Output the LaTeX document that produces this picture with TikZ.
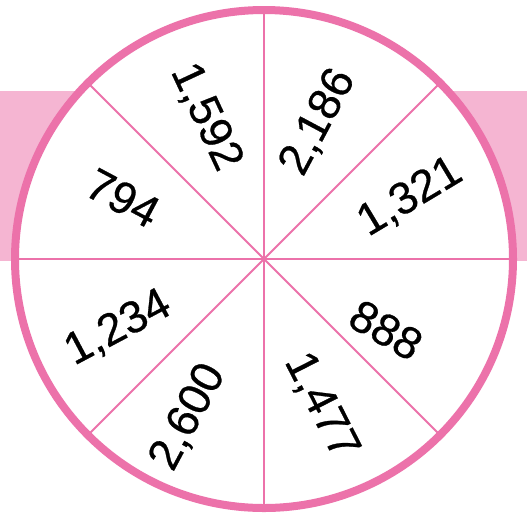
\documentclass[tikz,border=0pt]{standalone}
\usepackage{fontspec}
\setmainfont{Liberation Sans}
\newfontfamily\numfont[FakeBold=0.6]{Liberation Sans}
\usetikzlibrary{calc}
\definecolor{rim}{HTML}{EC72AA}
\definecolor{band}{HTML}{F5B5D2}
\begin{document}
\begin{tikzpicture}[x=1pt,y=-1pt,
  num/.style={font=\numfont\fontsize{45}{50}\selectfont, text=black, inner sep=0pt},
  spoke/.style={draw=rim, line width=1.8pt}]
\useasboundingbox (0,0) rectangle (527,515);
\fill[band] (0,91) rectangle (527,260.5);
\coordinate (c) at (264,259);
\fill[white] (c) circle (249);
\foreach \a in {0,45,...,315}{
  \coordinate (r\a) at ($(c)+(\a:249pt)$);
}
\foreach \a in {0,45,...,315}{
  \draw[spoke] (c) -- (r\a);
}
\draw[rim, line width=8pt] (c) circle (249);
\node[num, rotate=-65] (n1592) at (206,117) {1,592};
\node[num, rotate=62]  (n2186) at (318,122) {2,186};
\node[num, rotate=31]  (n1321) at (410,197) {1,321};
\node[num, rotate=-28] (n794)  at (123,198) {794};
\node[num, rotate=-30] (n888)  at (386,330) {888};
\node[num, rotate=28]  (n1234) at (118,328) {1,234};
\node[num, rotate=62]  (n2600) at (188,417) {2,600};
\node[num, rotate=-63] (n1477) at (321,406) {1,477};
\end{tikzpicture}
\end{document}
